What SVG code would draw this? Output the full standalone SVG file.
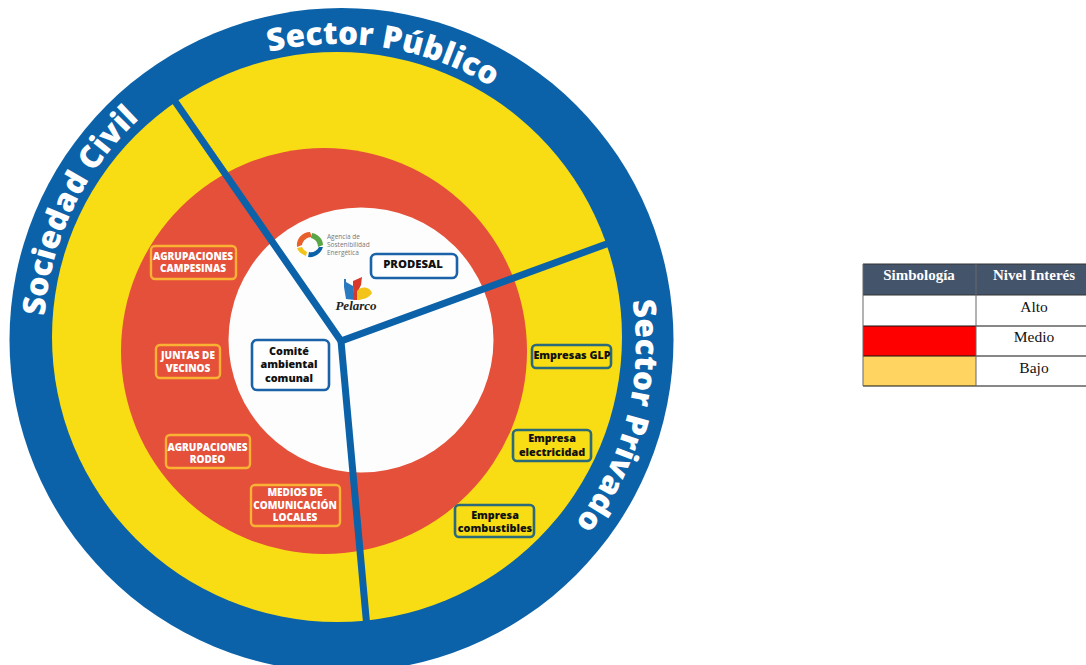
<svg xmlns="http://www.w3.org/2000/svg" width="1086" height="665" viewBox="0 0 1086 665">
<style>
text{font-family:"Open Sans","Noto Sans","DejaVu Sans",sans-serif;font-weight:700;text-anchor:middle}
.ring{font-size:31.500px;fill:#fff;font-weight:800}
.w{font-size:10px;fill:#fff;font-weight:800}
.b{font-size:10.8px;fill:#111;font-weight:800}
.or{fill:none;stroke:#f9b233;stroke-width:2.4}
.bl{fill:#fff;stroke:#1a63a8;stroke-width:2.6}
.yb{fill:#f8dc14;stroke:#2a6a7a;stroke-width:2.6}
.sp{fill:none;stroke:#0b62a9;stroke-width:7}
.tt{font-family:"Liberation Serif","Times New Roman",serif;font-size:15.500px;fill:#111;font-weight:400}
.th{font-family:"Liberation Serif","Times New Roman",serif;font-size:15px;fill:#fff;font-weight:700}
.ag{font-size:6.5px;font-weight:400;fill:#777;text-anchor:start}
</style>
<defs>
<path id="arcPub" d="M 262 54 A 296 296 0 0 1 498 91"/>
<path id="arcCiv" d="M 44 325 A 299 299 0 0 1 146 113"/>
<path id="arcPri" d="M 632 298 A 292 292 0 0 1 573 526"/>
</defs>
<rect width="1086" height="665" fill="#fff"/>
<g id="rings">
<circle cx="341.500" cy="340" r="332" fill="#0b62a9"/>
<circle cx="337" cy="337" r="285" fill="#f8dc14"/>
<circle cx="324" cy="351" r="203" fill="#e4503a"/>
<circle cx="361" cy="340" r="132.500" fill="#fdfdfd"/>
</g>
<g id="connectors">
<path class="sp" d="M172 97 L341 341 L612 242"/>
<path class="sp" d="M341 341 L367 628"/>
</g>
<g id="ring-labels">
<text class="ring"><textPath href="#arcPub" startOffset="50%">Sector Público</textPath></text>
<text class="ring"><textPath href="#arcCiv" startOffset="50%">Sociedad Civil</textPath></text>
<text class="ring"><textPath href="#arcPri" startOffset="50%">Sector Privado</textPath></text>
</g>
<g id="n-campesinas"><rect class="or" x="151" y="246" width="85" height="33" rx="4"/><text class="w" x="193" y="260">AGRUPACIONES</text><text class="w" x="193" y="272">CAMPESINAS</text></g>
<g id="n-juntas"><rect class="or" x="156" y="345" width="64" height="33" rx="4"/><text class="w" x="188" y="359">JUNTAS DE</text><text class="w" x="188" y="372">VECINOS</text></g>
<g id="n-rodeo"><rect class="or" x="166" y="435" width="84" height="33" rx="4"/><text class="w" x="207.500" y="451">AGRUPACIONES</text><text class="w" x="207.500" y="463">RODEO</text></g>
<g id="n-medios"><rect class="or" x="251" y="485" width="89" height="41" rx="4"/><text class="w" x="295" y="496">MEDIOS DE</text><text class="w" x="295" y="509">COMUNICACIÓN</text><text class="w" x="295" y="521">LOCALES</text></g>
<g id="n-comite"><rect class="bl" x="252" y="340" width="77" height="50" rx="5"/><text class="b" x="289" y="355">Comité</text><text class="b" x="289" y="368">ambiental</text><text class="b" x="289" y="382">comunal</text></g>
<g id="n-prodesal"><rect class="bl" x="371" y="254" width="86" height="24" rx="5"/><text class="b" x="413" y="268" style="font-size:11.300px">PRODESAL</text></g>
<g id="n-glp"><rect class="yb" x="532" y="345" width="79" height="23" rx="4"/><text class="b" x="572" y="359">Empresas GLP</text></g>
<g id="n-elec"><rect class="yb" x="513" y="430" width="78" height="31" rx="4"/><text class="b" x="552" y="442">Empresa</text><text class="b" x="552" y="456">electricidad</text></g>
<g id="n-comb"><rect class="yb" x="455" y="505" width="79" height="32" rx="4"/><text class="b" x="495" y="519">Empresa</text><text class="b" x="495" y="532">combustibles</text></g>
<g id="logo-agencia">
<path d="M297 247c-1-8 5-15 13-15l2 5c-5 0-9 3-10 8z" fill="#e8602c"/>
<path d="M312 233c6 1 11 6 11 12l-5 2c0-5-3-8-7-9z" fill="#5aa545"/>
<path d="M323 247c-2 7-9 11-15 10l1-5c4 1 8-1 10-5z" fill="#0b62a9"/>
<path d="M306 256c-5-2-8-5-9-8l5-1c1 2 3 4 5 5z" fill="#f2c318"/>
<text class="ag" x="327" y="239">Agencia de</text>
<text class="ag" x="327" y="247">Sostenibilidad</text>
<text class="ag" x="327" y="255">Energética</text>
</g>
<g id="logo-pelarco">
<path d="M344 279l2 0 0 3 7 4 2 14-9-1-2-12z" fill="#2a7ac0"/>
<path d="M353 281l9-4-1 8-3 6 0 9-4 0-1-14z" fill="#d8392b"/>
<path d="M357 291c5-6 13-4 15 2-3 5-10 7-15 7z" fill="#f2c318"/>
<text x="356" y="310" style="font-family:'Liberation Serif',serif;font-style:italic;font-size:13px;fill:#222">Pelarco</text>
</g>
<g id="legend">
<rect x="863" y="264" width="223" height="31" fill="#44546a"/>
<rect x="863" y="326" width="113" height="30" fill="#ff0000"/>
<rect x="863" y="356" width="113" height="30" fill="#ffd460"/>
<path d="M863 264H1086M863 295H1086" stroke="#333" stroke-width="1" fill="none"/>
<path d="M863 326H1086M863 356H1086M863 386H1086" stroke="#111" stroke-width="1" fill="none"/>
<path d="M863 264V386M976 264V386" stroke="#666" stroke-width="1" fill="none"/>
<text class="th" x="919" y="280">Simbología</text><text class="th" x="1034" y="280">Nivel Interés</text>
<text class="tt" x="1034" y="312">Alto</text><text class="tt" x="1034" y="342">Medio</text><text class="tt" x="1034" y="373">Bajo</text>
</g>
</svg>
